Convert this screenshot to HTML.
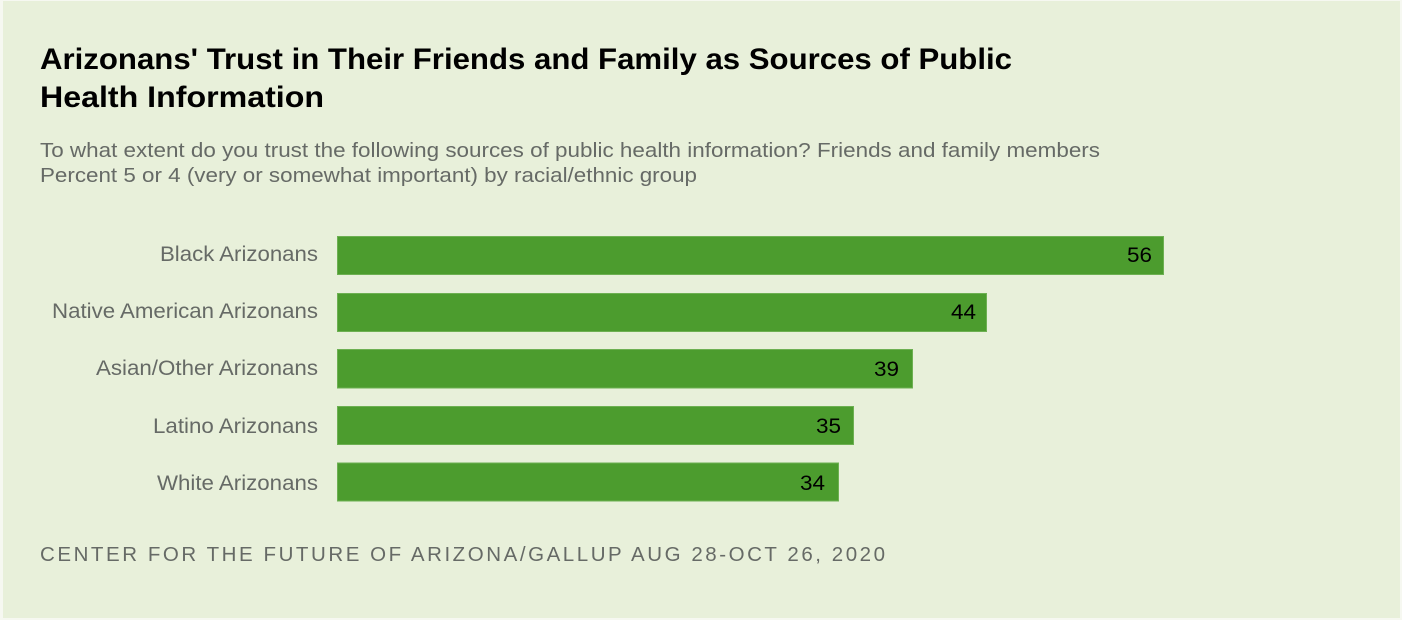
<!DOCTYPE html>
<html>
<head>
<meta charset="utf-8">
<style>
  html,body{margin:0;padding:0;background:#f4f7ee;}
  body{width:1402px;height:620px;overflow:hidden;}
  svg{display:block;}
  text{font-family:"Liberation Sans",Arial,sans-serif;}
</style>
</head>
<body>
<svg width="1402" height="620" viewBox="0 0 1402 620" xmlns="http://www.w3.org/2000/svg">
  <rect x="0" y="0" width="1402" height="620" fill="#f6f8f1"/>
  <rect x="3" y="1" width="1397" height="617" fill="#e8f0da"/>

  <text x="40" y="69" font-size="30" font-weight="bold" fill="#000" textLength="972" lengthAdjust="spacingAndGlyphs">Arizonans' Trust in Their Friends and Family as Sources of Public</text>
  <text x="40" y="107" font-size="30" font-weight="bold" fill="#000" textLength="284" lengthAdjust="spacingAndGlyphs">Health Information</text>

  <text x="40" y="157" font-size="20.5" fill="#666a66" textLength="1060" lengthAdjust="spacingAndGlyphs">To what extent do you trust the following sources of public health information? Friends and family members</text>
  <text x="40" y="182" font-size="20.5" fill="#666a66" textLength="657" lengthAdjust="spacingAndGlyphs">Percent 5 or 4 (very or somewhat important) by racial/ethnic group</text>

  <g fill="#4c9c2e" stroke="#6db052" stroke-width="1">
    <rect x="337.5" y="236.5" width="826" height="38"/>
    <rect x="337.5" y="293.5" width="649" height="38"/>
    <rect x="337.5" y="349.5" width="575" height="38.5"/>
    <rect x="337.5" y="406.5" width="516" height="38"/>
    <rect x="337.5" y="463" width="501" height="38"/>
  </g>

  <g font-size="21" fill="#666a66">
    <text x="160" y="261" textLength="158" lengthAdjust="spacingAndGlyphs">Black Arizonans</text>
    <text x="52" y="318" textLength="266" lengthAdjust="spacingAndGlyphs">Native American Arizonans</text>
    <text x="96" y="375" textLength="222" lengthAdjust="spacingAndGlyphs">Asian/Other Arizonans</text>
    <text x="153" y="433" textLength="165" lengthAdjust="spacingAndGlyphs">Latino Arizonans</text>
    <text x="157" y="490" textLength="161" lengthAdjust="spacingAndGlyphs">White Arizonans</text>
  </g>

  <g font-size="21" fill="#000">
    <text x="1127" y="262" textLength="25" lengthAdjust="spacingAndGlyphs">56</text>
    <text x="951" y="319" textLength="25" lengthAdjust="spacingAndGlyphs">44</text>
    <text x="874" y="376" textLength="25" lengthAdjust="spacingAndGlyphs">39</text>
    <text x="816" y="433" textLength="25" lengthAdjust="spacingAndGlyphs">35</text>
    <text x="800" y="490" textLength="25" lengthAdjust="spacingAndGlyphs">34</text>
  </g>

  <text x="40" y="561" font-size="20.5" fill="#666a66" textLength="845" lengthAdjust="spacing">CENTER FOR THE FUTURE OF ARIZONA/GALLUP AUG 28-OCT 26, 2020</text>
</svg>
</body>
</html>
